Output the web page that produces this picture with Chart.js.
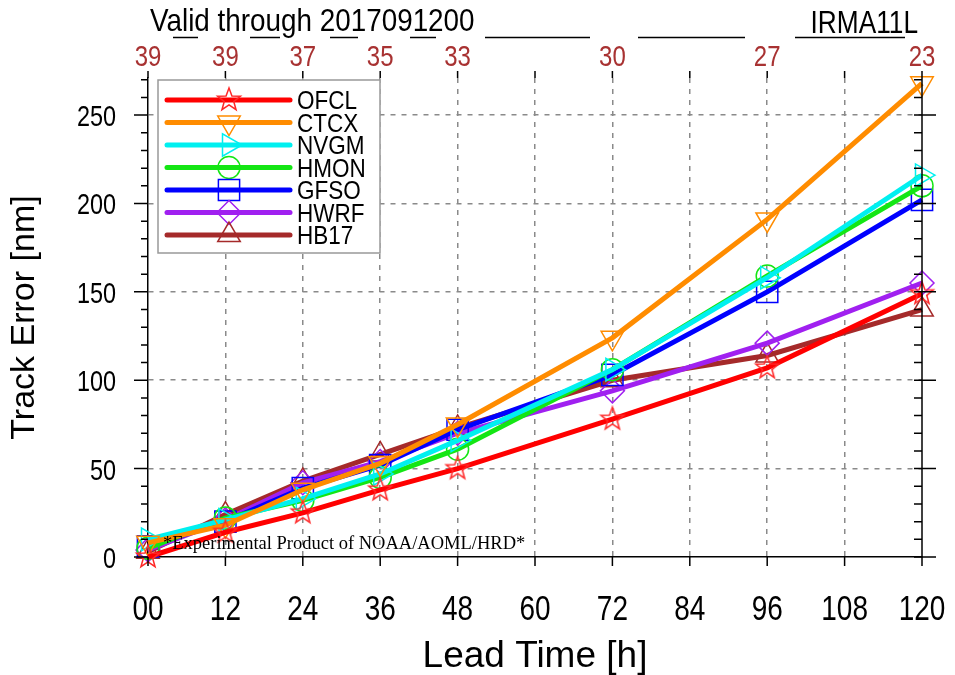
<!DOCTYPE html>
<html>
<head>
<meta charset="utf-8">
<script src="https://cdn.jsdelivr.net/npm/chart.js@4.4.1/dist/chart.umd.min.js"></script>
<style>
  html, body { margin: 0; padding: 0; background: #fff; }
</style>
</head>
<body>
<canvas id="myChart" width="955" height="675"></canvas>
<script>
// lead times [h] and homogeneous case counts along the top
var leadTimes = [0, 12, 24, 36, 48, 72, 96, 120];
var caseCounts = [39, 39, 37, 35, 33, 30, 27, 23];
var xTicks = [0, 12, 24, 36, 48, 60, 72, 84, 96, 108, 120];
var yTicks = [0, 50, 100, 150, 200, 250];

// track errors [nm]
var ofcl = [0, 14, 25, 38, 50, 78, 107, 149];
var ctcx = [8, 18, 38, 53, 75, 124, 191, 268];
var nvgm = [10, 21, 33, 47, 66, 106, 158, 216];
var hmon = [5, 22, 32, 45, 61, 106, 159, 210];
var gfso = [6, 20, 39, 52, 72, 103, 150, 202];
var hwrf = [4, 21, 42, 54, 70, 94, 121, 155];
var hb17 = [3, 24, 43, 58, 73, 100, 114, 140];

var SANS = "'Liberation Sans', Arial, sans-serif";

// hollow 5 point star for OFCL
function makeStar(color) {
	var c = document.createElement('canvas');
	c.width = 28; c.height = 28;
	var g = c.getContext('2d');
	g.strokeStyle = color;
	g.lineWidth = 1.5;
	g.beginPath();
	for (var i = 0; i < 10; i++) {
		var r = (i % 2 === 0) ? 12 : 5;
		var a = -Math.PI / 2 + i * Math.PI / 5;
		var px = 14 + r * Math.cos(a), py = 14 + r * Math.sin(a);
		if (i === 0) g.moveTo(px, py); else g.lineTo(px, py);
	}
	g.closePath();
	g.stroke();
	return c;
}

function pts(arr) {
	return arr.map(function(v, i){ return {x: leadTimes[i], y: v}; });
}

function series(label, values, color, style, radius, rotation) {
	return {
		label: label,
		data: pts(values),
		borderColor: color,
		backgroundColor: color,
		borderWidth: 5,
		pointStyle: style,
		pointRadius: radius,
		pointHoverRadius: radius,
		pointRotation: rotation || 0,
		pointBorderColor: color,
		pointBackgroundColor: 'rgba(0,0,0,0)',
		pointBorderWidth: 1.5,
		tension: 0,
		clip: false
	};
}

var datasets = [
	series('OFCL', ofcl, 'rgb(255,0,0)', makeStar('rgb(255,40,40)'), 12),
	series('CTCX', ctcx, 'rgb(255,140,0)', 'triangle', 13, 180),
	series('NVGM', nvgm, 'rgb(0,240,240)', 'triangle', 13, 90),
	series('HMON', hmon, 'rgb(20,230,20)', 'circle', 11),
	series('GFSO', gfso, 'rgb(0,0,255)', 'rect', 15),
	series('HWRF', hwrf, 'rgb(160,32,240)', 'rectRot', 12),
	series('HB17', hb17, 'rgb(165,42,42)', 'triangle', 13)
];

// horizontally squeezed text, like the tall NCL font
function squeezed(ctx, str, x, y, size, sx, align) {
	ctx.save();
	ctx.translate(x, y);
	ctx.scale(sx, 1);
	ctx.font = size + 'px ' + SANS;
	ctx.textAlign = align;
	ctx.textBaseline = 'alphabetic';
	ctx.fillText(str, 0, 0);
	ctx.restore();
}

var extras = {
	id: 'extras',
	beforeDraw: function(chart) {
		var ctx = chart.ctx;
		ctx.save();
		ctx.fillStyle = '#fff';
		ctx.fillRect(0, 0, chart.width, chart.height);
		ctx.restore();
	},
	afterDatasetsDraw: function(chart) {
		var ctx = chart.ctx, a = chart.chartArea;
		var xs = chart.scales.x, ys = chart.scales.y;
		ctx.save();
		ctx.setLineDash([]);
		ctx.strokeStyle = '#000';
		ctx.lineWidth = 1.5;

		// right axis line
		ctx.beginPath();
		ctx.moveTo(a.right, a.top);
		ctx.lineTo(a.right, a.bottom);
		ctx.stroke();

		// y ticks, minor every 10
		for (var v = 0; v <= ys.max; v += 10) {
			var py = ys.getPixelForValue(v);
			var major = (v % 50 === 0);
			ctx.beginPath();
			ctx.moveTo(a.left - (major ? 14 : 7), py);
			ctx.lineTo(a.left, py);
			ctx.moveTo(a.right - 8, py);
			ctx.lineTo(a.right + (major ? 14 : 0), py);
			ctx.stroke();
		}

		// x ticks bottom and top
		xTicks.forEach(function(t){
			var px = xs.getPixelForValue(t);
			ctx.beginPath();
			ctx.moveTo(px, a.bottom);
			ctx.lineTo(px, a.bottom + 9);
			ctx.moveTo(px, a.top);
			ctx.lineTo(px, a.top - 7);
			ctx.stroke();
		});

		// tick labels
		ctx.fillStyle = '#000';
		yTicks.forEach(function(t){
			squeezed(ctx, String(t), a.left - 32, ys.getPixelForValue(t) + 11, 30, 0.78, 'right');
		});
		xTicks.forEach(function(t){
			squeezed(ctx, (t < 10 ? '0' : '') + t, xs.getPixelForValue(t), 620, 35, 0.8, 'center');
		});

		// case counts on top
		ctx.fillStyle = '#a83232';
		leadTimes.forEach(function(t, i){
			squeezed(ctx, String(caseCounts[i]), xs.getPixelForValue(t), 66, 30, 0.8, 'center');
		});

		// title
		ctx.fillStyle = '#000';
		squeezed(ctx, 'Valid through 2017091200', 150, 31, 32, 0.87, 'left');
		squeezed(ctx, 'IRMA11L', 918, 33, 32, 0.82, 'right');
		var unders = [[173,198],[250,280],[330,358],[410,436],[485,590],[638,745],[795,905]];
		ctx.lineWidth = 1.5;
		unders.forEach(function(u){
			ctx.beginPath();
			ctx.moveTo(u[0], 37.5);
			ctx.lineTo(u[1], 37.5);
			ctx.stroke();
		});

		// legend
		var lx = 158, ly = 80, lw = 222, lh = 173;
		ctx.fillStyle = '#fff';
		ctx.fillRect(lx, ly, lw, lh);
		ctx.strokeStyle = '#999';
		ctx.lineWidth = 1.5;
		ctx.strokeRect(lx, ly, lw, lh);
		chart.data.datasets.forEach(function(ds, i){
			var ry = 100 + i * 22.5;
			ctx.strokeStyle = ds.borderColor;
			ctx.lineWidth = 5;
			ctx.lineCap = 'round';
			ctx.beginPath();
			ctx.moveTo(167, ry);
			ctx.lineTo(290, ry);
			ctx.stroke();
			ctx.lineCap = 'butt';
			ctx.lineWidth = 1.5;
			ctx.strokeStyle = ds.pointBorderColor;
			ctx.fillStyle = 'rgba(0,0,0,0)';
			Chart.helpers.drawPoint(ctx, {
				pointStyle: ds.pointStyle,
				rotation: ds.pointRotation,
				radius: ds.pointRadius,
				borderWidth: 1.5
			}, 229, ry);
			ctx.fillStyle = '#000';
			squeezed(ctx, ds.label, 297, ry + 9, 25, 0.9, 'left');
		});

		// product note
		ctx.font = '18.5px "Liberation Serif", "Times New Roman", serif';
		ctx.textAlign = 'left';
		ctx.textBaseline = 'alphabetic';
		ctx.fillStyle = '#000';
		ctx.fillText('*Experimental Product of NOAA/AOML/HRD*', 163, 549);
		ctx.restore();
	}
};

var ctx = document.getElementById('myChart').getContext('2d');
var myChart = new Chart(ctx, {
	type: 'line',
	data: { datasets: datasets },
	options: {
		responsive: false,
		animation: false,
		devicePixelRatio: 1,
		layout: { padding: { top: 78, right: 33, left: 0, bottom: 0 } },
		plugins: { legend: { display: false }, tooltip: { enabled: false } },
		scales: {
			x: {
				type: 'linear',
				min: 0,
				max: 120,
				afterBuildTicks: function(s){ s.ticks = xTicks.map(function(v){ return {value: v}; }); },
				afterFit: function(s){ s.height = 118; },
				ticks: { display: false },
				grid: {
					drawTicks: false,
					lineWidth: 1.5,
					color: function(c){ return (c.tick && (c.tick.value === 0 || c.tick.value === 120)) ? 'rgba(0,0,0,0)' : '#8a8a8a'; }
				},
				border: { display: true, color: '#000', width: 1.5, dash: [5, 6] },
				title: {
					display: true,
					text: 'Lead Time [h]',
					color: '#000',
					font: { family: SANS, size: 37, lineHeight: 1 },
					padding: { top: 0, bottom: 0 }
				}
			},
			y: {
				min: 0,
				max: 271,
				afterBuildTicks: function(s){ s.ticks = yTicks.map(function(v){ return {value: v}; }); },
				afterFit: function(s){ s.width = 148; },
				ticks: { display: false },
				grid: {
					drawTicks: false,
					lineWidth: 1.5,
					color: function(c){ return (c.tick && c.tick.value === 0) ? 'rgba(0,0,0,0)' : '#8a8a8a'; }
				},
				border: { display: true, color: '#000', width: 1.5, dash: [5, 6] },
				title: {
					display: true,
					text: 'Track Error [nm]',
					color: '#000',
					font: { family: SANS, size: 34, lineHeight: 1 },
					padding: { top: 8, bottom: 0 }
				}
			}
		}
	},
	plugins: [extras]
});
</script>
</body>
</html>
